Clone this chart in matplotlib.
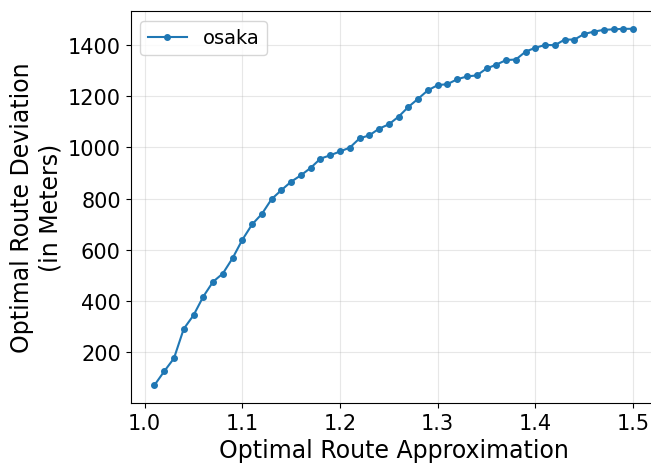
import matplotlib
matplotlib.use("Agg")
import matplotlib.pyplot as plt

# approximation factor vs. deviation from optimal route (osaka)
approx = [1.01, 1.02, 1.03, 1.04, 1.05, 1.06, 1.07, 1.08, 1.09, 1.10,
          1.11, 1.12, 1.13, 1.14, 1.15, 1.16, 1.17, 1.18, 1.19, 1.20,
          1.21, 1.22, 1.23, 1.24, 1.25, 1.26, 1.27, 1.28, 1.29, 1.30,
          1.31, 1.32, 1.33, 1.34, 1.35, 1.36, 1.37, 1.38, 1.39, 1.40,
          1.41, 1.42, 1.43, 1.44, 1.45, 1.46, 1.47, 1.48, 1.49, 1.50]
deviation = [71, 125, 176, 291, 344, 417, 475, 507, 567, 639,
             699, 740, 798, 833, 866, 891, 920, 956, 969, 984,
             999, 1035, 1047, 1073, 1090, 1120, 1158, 1190, 1223, 1243,
             1247, 1266, 1277, 1281, 1308, 1323, 1341, 1343, 1374, 1389,
             1400, 1399, 1421, 1421, 1443, 1452, 1459, 1461, 1463, 1463]

fig = plt.figure(figsize=(6.51, 4.64), dpi=100)
ax = fig.add_axes([130.5 / 651, 1 - 404 / 464, (657 - 130.5) / 651, (404 - 12) / 464])

ax.plot(approx, deviation, marker='o', markersize=4, color='#1f77b4', label='osaka')
ax.set_xlabel('Optimal Route Approximation', fontsize=17)
ax.set_ylabel('Optimal Route Deviation\n(in Meters)', fontsize=17)
ax.tick_params(labelsize=15)
ax.set_yticks([200, 400, 600, 800, 1000, 1200, 1400])
ax.grid(True, alpha=0.3)
ax.legend(loc='upper left', fontsize=14)

fig.savefig('out.png', dpi=100)
